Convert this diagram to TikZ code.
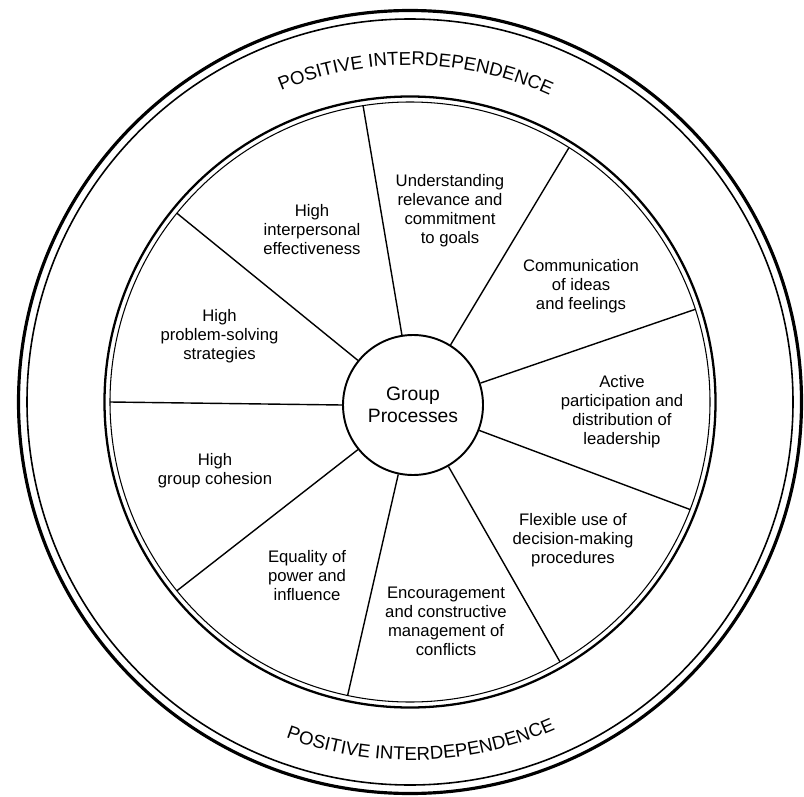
\documentclass[tikz,border=0pt]{standalone}
\usepackage{fontspec}
\setmainfont{Liberation Sans}
\usepackage{tikz}
\usetikzlibrary{calc, decorations.text}
\tikzset{
    sector/.style={align=center, inner sep=0pt, font=\fontsize{9.5}{10.8}\selectfont},
    spoke/.style={line width=0.8pt}
}
\newcommand{\ringfont}{\fontsize{10.6}{12}\selectfont}

\begin{document}
\begin{tikzpicture}
        \useasboundingbox (0,0) rectangle (16.08,-15.94);
        \coordinate (C) at (8.2,-8.04);
        \draw[line width=1.8pt] (C) circle (7.83);
        \draw[line width=0.9pt] (C) circle (7.66);
        \draw[line width=1.3pt] (C) circle (6.11);
        \draw[line width=0.6pt] (C) circle (6.0);
        \node[draw, circle, line width=1.1pt, minimum size=2.8cm, align=center, font=\fontsize{11}{12.3}\selectfont] (gp) at (8.26,-8.1) {Group\\Processes};
        \foreach \a in {99,58,18,-21,-60,-102,-141,180,141}{
            \coordinate (rim\a) at ($(C)+(\a:6.0)$);
            \draw[spoke] (gp.\a) -- (rim\a);
        }
        \path[decorate, decoration={text along path, text align=center, text={|\ringfont|POSITIVE INTERDEPENDENCE}}] ($(C)+(140:6.74)$) arc[start angle=140, end angle=38, radius=6.74];
        \path[decorate, decoration={text along path, text align=center, text={|\ringfont|POSITIVE INTERDEPENDENCE}}] ($(C)+(221:7.16)$) arc[start angle=221, end angle=322.7, radius=7.16];
        \node[sector] (interp) at (6.24,-4.6) {High\\interpersonal\\effectiveness};
        \node[sector] (goals) at (9.0,-4.22) {Understanding\\relevance and\\commitment\\to goals};
        \node[sector] (comm) at (11.62,-5.72) {Communication\\of ideas\\and feelings};
        \node[sector] (solve) at (4.39,-6.72) {High\\problem-solving\\strategies};
        \node[sector] (active) at (12.44,-8.24) {Active\\participation and\\distribution of\\leadership};
        \node[sector] (cohesion) at (4.3,-9.42) {High\\group cohesion};
        \node[sector] (flexible) at (11.46,-10.8) {Flexible use of\\decision-making\\procedures};
        \node[sector] (equality) at (6.14,-11.52) {Equality of\\power and\\influence};
        \node[sector] (conflict) at (8.92,-12.42) {Encouragement\\and constructive\\management of\\conflicts};
\end{tikzpicture}
\end{document}
